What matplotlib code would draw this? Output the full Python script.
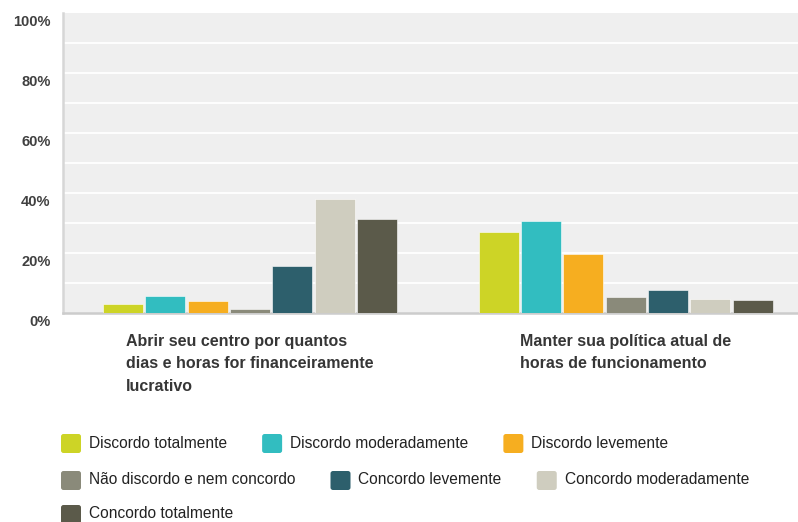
import numpy as np
import matplotlib.pyplot as plt
from matplotlib.patches import FancyBboxPatch
from matplotlib.transforms import ScaledTranslation

plt.rcParams['font.family'] = ['Liberation Sans', 'DejaVu Sans']

# Data
categories = ["Abrir seu centro por quantos\ndias e horas for financeiramente\nlucrativo",
              "Manter sua política atual de\nhoras de funcionamento"]
series = ["Discordo totalmente", "Discordo moderadamente", "Discordo levemente",
          "Não discordo e nem concordo", "Concordo levemente", "Concordo moderadamente",
          "Concordo totalmente"]
values = [
    [3.0, 27.0],   # Discordo totalmente
    [5.8, 30.8],   # Discordo moderadamente
    [4.1, 19.7],   # Discordo levemente
    [1.3, 5.2],    # Não discordo e nem concordo
    [15.8, 7.6],   # Concordo levemente
    [37.9, 4.8],   # Concordo moderadamente
    [31.2, 4.2],   # Concordo totalmente
]
colors = ["#cdd426", "#32bdc0", "#f6ae20", "#8a8a7a", "#2d5f6c", "#cfcdbf", "#5b5a4a"]
yticks = [0, 20, 40, 60, 80, 100]
ytick_labels = ["0%", "20%", "40%", "60%", "80%", "100%"]

fig = plt.figure(figsize=(7.98, 5.22), dpi=100)
ax = fig.add_axes([63 / 798, 1 - 313 / 522, 1 - 63 / 798, 300 / 522])
ax.set_facecolor("#efefef")

x = np.arange(len(categories))
step = 0.1127
width = 0.1065
for i, (name, vals) in enumerate(zip(series, values)):
    offs = (i - 3) * step
    ax.bar(x + offs, vals, width=width, color=colors[i], edgecolor="#ffffff",
           linewidth=0.4, zorder=3)

ax.set_xlim(-0.498, 1.459)
ax.set_ylim(0, 100)

# white gridlines every 10%
for g in range(10, 100, 10):
    ax.axhline(g, color="white", linewidth=1.3, zorder=1)

ax.set_yticks(yticks)
ax.set_yticklabels(ytick_labels, fontsize=10.5, fontweight="bold", color="#404040")
ax.tick_params(axis="y", length=0, pad=9)
offset = ScaledTranslation(0, -0.07, fig.dpi_scale_trans)
for lbl in ax.get_yticklabels():
    lbl.set_transform(lbl.get_transform() + offset)

ax.set_xticks([])
for s in ["top", "right"]:
    ax.spines[s].set_visible(False)
ax.spines["left"].set_color("#d6d6d6")
ax.spines["left"].set_linewidth(1.8)
ax.spines["bottom"].set_color("#cccccc")
ax.spines["bottom"].set_linewidth(1.8)

# category labels below the axis
for xi, cat in zip(x, categories):
    ax.text(xi, -7.0, cat, ha="center", va="top", multialignment="left",
            fontsize=11.5, fontweight="bold", color="#363636", linespacing=1.62,
            transform=ax.transData, clip_on=False)

# flow legend below
rows = [[0, 1, 2], [3, 4, 5], [6]]
row_y = [443, 480, 514]
renderer = fig.canvas.get_renderer()
for row, yc in zip(rows, row_y):
    xpos = 61
    for i in row:
        sq = FancyBboxPatch(((xpos) / 100, (522 - yc - 10) / 100), 0.20, 0.19,
                            boxstyle="round,pad=0,rounding_size=0.025",
                            transform=fig.dpi_scale_trans, facecolor=colors[i],
                            edgecolor="none")
        fig.add_artist(sq)
        t = fig.text((xpos + 28) / 100, (522 - yc) / 100, series[i], fontsize=11.2,
                     color="#222222", va="center", ha="left",
                     transform=fig.dpi_scale_trans)
        w = t.get_window_extent(renderer).width
        xpos = xpos + 28 + w + 35

fig.savefig("out.png", dpi=100)
